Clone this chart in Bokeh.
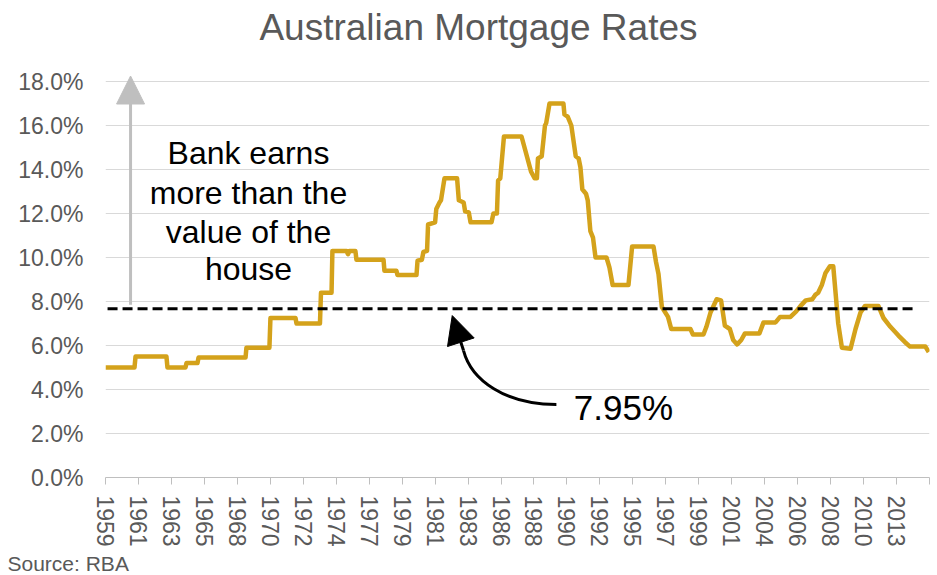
from bokeh.plotting import figure
from bokeh.models import Range1d, FixedTicker, PrintfTickFormatter, Label, Arrow, NormalHead, Title
from bokeh.embed import file_html
from bokeh.resources import INLINE

# ---------------- data ----------------
title_text = "Australian Mortgage Rates"
source_text = "Source: RBA"
x_tick_labels = ["1959", "1961", "1963", "1965", "1968", "1970", "1972", "1974", "1977",
                 "1979", "1981", "1983", "1986", "1988", "1990", "1992", "1995", "1997",
                 "1999", "2001", "2004", "2006", "2008", "2010", "2013"]
first_label_year = 1959.0
label_step_months = 27
y_ticks = [0, 2, 4, 6, 8, 10, 12, 14, 16, 18]

rate_year = [1959.00, 1960.98, 1961.05, 1963.16, 1963.23, 1964.46, 1964.53, 1965.28, 1965.35,
             1968.56, 1968.62, 1970.19, 1970.26, 1971.97, 1972.04, 1973.64, 1973.71, 1974.43,
             1974.49, 1975.45, 1975.55, 1975.66, 1976.06, 1976.13, 1977.98, 1978.04, 1978.86,
             1978.93, 1980.23, 1980.30, 1980.60, 1980.70, 1980.95, 1981.02, 1981.50, 1981.58,
             1981.80, 1981.90, 1982.14, 1983.00, 1983.12, 1983.45, 1983.55, 1983.80, 1983.92,
             1985.35, 1985.48, 1985.72, 1985.80, 1985.95, 1986.20, 1987.40, 1988.05, 1988.30,
             1988.45, 1988.52, 1988.78, 1989.00, 1989.08, 1989.31, 1990.26, 1990.33, 1990.55,
             1990.80, 1991.10, 1991.30, 1991.42, 1991.55, 1991.80, 1991.92, 1992.10, 1992.28,
             1992.45, 1993.20, 1993.40, 1993.62, 1994.70, 1994.95, 1996.41, 1996.58, 1996.75,
             1996.98, 1997.40, 1997.62, 1998.93, 1999.10, 1999.82, 2000.02, 2000.30, 2000.72,
             2001.02, 2001.28, 2001.62, 2001.85, 2002.12, 2002.40, 2002.65, 2003.64, 2003.92,
             2004.74, 2005.05, 2005.76, 2006.15, 2006.45, 2006.80, 2007.25, 2007.45, 2007.65,
             2007.90, 2008.15, 2008.45, 2008.68, 2009.02, 2009.27, 2009.86, 2010.20, 2010.54,
             2010.85, 2011.76, 2012.11, 2012.58, 2013.13, 2013.58, 2013.92, 2014.97, 2015.20]
rate_pct = [5.0, 5.0, 5.5, 5.5, 5.0, 5.0, 5.2, 5.2, 5.45,
            5.45, 5.9, 5.9, 7.25, 7.25, 7.0, 7.0, 8.4, 8.4,
            10.3, 10.3, 10.15, 10.3, 10.3, 9.9, 9.9, 9.4, 9.4,
            9.2, 9.2, 9.85, 9.9, 10.25, 10.3, 11.5, 11.6, 12.2,
            12.5, 12.6, 13.6, 13.6, 12.6, 12.5, 12.1, 12.05, 11.6,
            11.6, 12.0, 12.0, 13.5, 13.6, 15.5, 15.5, 13.9, 13.6,
            13.6, 14.5, 14.6, 16.0, 16.1, 17.0, 17.0, 16.5, 16.4,
            16.0, 14.6, 14.5, 14.1, 13.1, 12.9, 12.6, 11.2, 10.9,
            10.0, 10.0, 9.55, 8.75, 8.75, 10.5, 10.5, 9.8, 9.25,
            7.75, 7.3, 6.75, 6.75, 6.5, 6.5, 6.85, 7.5, 8.1,
            8.05, 6.9, 6.75, 6.25, 6.05, 6.25, 6.55, 6.55, 7.05,
            7.05, 7.3, 7.3, 7.55, 7.8, 8.05, 8.1, 8.3, 8.4,
            8.75, 9.3, 9.6, 9.6, 7.0, 5.9, 5.85, 6.75, 7.5,
            7.8, 7.8, 7.25, 6.85, 6.45, 6.15, 5.95, 5.95, 5.7]

breakeven_drawn = 7.67
breakeven_text = "7.95%"
note_lines = ["Bank earns", "more than the", "value of the", "house"]

# ---------------- styling ----------------
FONT = "Liberation Sans"
GOLD = "#D4A21B"
GREY_TEXT = "#595959"
PX_PER_PCT = 22.0      # vertical scale of the plot area
TOP_PAD_PX = 81        # room above the 18% gridline for the title

x_end = first_label_year + len(x_tick_labels) * label_step_months / 12.0
tick_pos = [first_label_year + i * label_step_months / 12.0 for i in range(len(x_tick_labels) + 1)]
overrides = {tick_pos[i]: (x_tick_labels[i] if i < len(x_tick_labels) else "") for i in range(len(tick_pos))}

p = figure(width=930, height=575, output_backend="svg", toolbar_location=None,
           x_range=Range1d(first_label_year, x_end),
           y_range=Range1d(0, y_ticks[-1] + TOP_PAD_PX / PX_PER_PCT),
           min_border_left=105, min_border_right=1, min_border_top=0, min_border_bottom=98)
p.outline_line_color = None
p.background_fill_color = "white"
p.border_fill_color = "white"

p.add_layout(Title(text=source_text, align="left", offset=-98, standoff=1,
                   text_font=FONT, text_font_size="21px", text_font_style="normal",
                   text_color=GREY_TEXT), "below")

p.xgrid.grid_line_color = None
p.ygrid.grid_line_color = "#D9D9D9"
p.ygrid.grid_line_width = 1

p.xaxis.ticker = FixedTicker(ticks=tick_pos)
p.xaxis.major_label_overrides = overrides
p.xaxis.major_label_orientation = "vertical"
p.xaxis.axis_line_color = "#BFBFBF"
p.xaxis.major_tick_line_color = "#BFBFBF"
p.xaxis.major_tick_out = 7
p.xaxis.major_tick_in = 0
p.xaxis.minor_tick_line_color = None
p.xaxis.major_label_standoff = 11
p.xaxis.major_label_text_font = FONT
p.xaxis.major_label_text_font_size = "23px"
p.xaxis.major_label_text_color = GREY_TEXT

p.yaxis.ticker = FixedTicker(ticks=y_ticks)
p.yaxis.formatter = PrintfTickFormatter(format="%.1f%%")
p.yaxis.axis_line_color = None
p.yaxis.major_tick_line_color = None
p.yaxis.minor_tick_line_color = None
p.yaxis.major_tick_out = 0
p.yaxis.major_label_standoff = 22
p.yaxis.major_label_text_font = FONT
p.yaxis.major_label_text_font_size = "23px"
p.yaxis.major_label_text_color = GREY_TEXT

# mortgage rate line
p.line(rate_year, rate_pct, line_color=GOLD, line_width=4.5, line_join="round")

# dashed break-even line
p.line([1959.14, 2014.43], [breakeven_drawn, breakeven_drawn], line_color="black",
       line_width=3, line_dash="10 5")

# grey up arrow
p.add_layout(Arrow(x_start=1960.71, y_start=7.85, x_end=1960.71, y_end=18.25,
                   line_color="#BFBFBF", line_width=3,
                   end=NormalHead(size=28, fill_color="#BFBFBF", line_color="#BFBFBF")))

# curved black arrow
p.bezier(x0=[1989.78], y0=[3.32], x1=[1983.44], y1=[5.77],
         cx0=[1986.30], cy0=[3.32], cx1=[1983.98], cy1=[4.41],
         line_color="black", line_width=3)
p.add_layout(Arrow(x_start=1983.44, y_start=5.77, x_end=1982.67, y_end=7.36,
                   line_color="black", line_width=3,
                   end=NormalHead(size=28, fill_color="black", line_color="black")))

# texts
p.add_layout(Label(x=1984.46, y=20.45, text=title_text, text_font=FONT,
                   text_font_size="37px", text_color=GREY_TEXT, text_align="center",
                   text_baseline="middle"))
p.add_layout(Label(x=1990.97, y=3.16, text=breakeven_text, text_font=FONT,
                   text_font_size="35px", text_color="black", text_align="left",
                   text_baseline="middle"))
note_y = [14.75, 12.93, 11.16, 9.5]
for t, yy in zip(note_lines, note_y):
    p.add_layout(Label(x=1968.76, y=yy, text=t, text_font=FONT, text_font_size="32px",
                       text_color="black", text_align="center", text_baseline="middle"))

open("out.html", "w").write(file_html(p, INLINE))
